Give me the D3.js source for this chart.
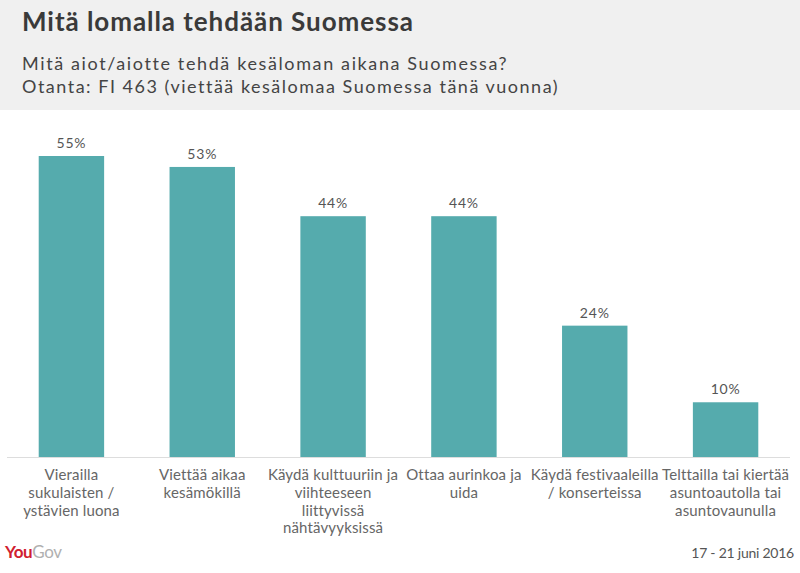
<!DOCTYPE html>
<html><head><meta charset="utf-8">
<script src="https://cdnjs.cloudflare.com/ajax/libs/d3/7.8.5/d3.min.js"></script>
<style>body{margin:0;background:#fff}svg{display:block}</style>
</head><body>
<script>
const categories = [
  ["Vierailla","sukulaisten /","ystävien luona"],
  ["Viettää aikaa","kesämökillä"],
  ["Käydä kulttuuriin ja","viihteeseen","liittyvissä","nähtävyyksissä"],
  ["Ottaa aurinkoa ja","uida"],
  ["Käydä festivaaleilla","/ konserteissa"],
  ["Telttailla tai kiertää","asuntoautolla tai","asuntovaunulla"]
];
const values = [55, 53, 44, 44, 24, 10];
const title = "Mitä lomalla tehdään Suomessa";
const subtitles = ["Mitä aiot/aiotte tehdä kesäloman aikana Suomessa?", "Otanta: FI 463 (viettää kesälomaa Suomessa tänä vuonna)"];
const dateText = "17 - 21 juni 2016";

const W = 800, H = 573;
const svg = d3.select("body").append("svg").attr("width", W).attr("height", H);
const font = "Lato, 'Open Sans', sans-serif";

// letter-spacing that makes a text element reach a target width
function spacingFor(sel, target) {
  const node = sel.node();
  const w = node.getComputedTextLength();
  const n = node.textContent.length;
  return (target - w) / Math.max(1, n - 1);
}

svg.append("rect").attr("x",0).attr("y",0).attr("width",W).attr("height",110).attr("fill","#f0f0f0");
const tt = svg.append("text").attr("x",22).attr("y",31).attr("font-family",font).attr("font-weight","bold")
  .attr("font-size",26).attr("fill","#3a3a3a").text(title);
tt.attr("letter-spacing", spacingFor(tt, 391));

const subTargets = [484, 535];
subtitles.forEach((s,i)=>{
  const t = svg.append("text").attr("x",22).attr("y",70+i*22.5).attr("font-family",font)
    .attr("font-size",18).attr("fill","#444").text(s);
  t.attr("letter-spacing", spacingFor(t, subTargets[i]));
});

const idx = d3.range(values.length);
const x = d3.scaleBand().domain(idx).range([6, 791]).paddingInner(0.5).paddingOuter(0.25);
const y = d3.scaleLinear().domain([0, 55]).range([457, 156]);

svg.append("line").attr("x1",7).attr("x2",790).attr("y1",457.5).attr("y2",457.5)
  .attr("stroke","#ddd").attr("stroke-width",1);

svg.selectAll(".bar").data(values).join("rect").attr("class","bar")
  .attr("x",(d,i)=>x(i)).attr("width",x.bandwidth())
  .attr("y",d=>y(d)).attr("height",d=>y(0)-y(d)).attr("fill","#55abad");

const vals = svg.selectAll(".val").data(values).join("text").attr("class","val")
  .attr("x",(d,i)=>x(i)+x.bandwidth()/2).attr("y",d=>y(d)-8)
  .attr("text-anchor","middle").attr("font-family",font).attr("font-size",14)
  .attr("fill","#555").text(d=>d+"%");
const valSp = spacingFor(d3.select(vals.nodes()[0]), 29);
vals.attr("letter-spacing", valSp);

// measure label spacing from a reference line
const probe = svg.append("text").attr("font-family",font).attr("font-size",15).text(categories[4][0]);
const labSp = spacingFor(probe, 128);
probe.remove();

categories.forEach((lines,i)=>{
  const t = svg.append("text").attr("text-anchor","middle").attr("font-family",font)
    .attr("font-size",15).attr("fill","#666").attr("letter-spacing", labSp);
  lines.forEach((l,j)=>{
    t.append("tspan").attr("x",x(i)+x.bandwidth()/2).attr("y",480+j*17.8).text(l);
  });
});

const logo = svg.append("text").attr("x",5).attr("y",558).attr("font-family",font)
  .attr("font-size",17).attr("letter-spacing","-0.4");
logo.append("tspan").attr("fill","#d0202f").attr("font-weight","bold").text("You");
logo.append("tspan").attr("fill","#b0b0b0").text("Gov");

const dt = svg.append("text").attr("x",794).attr("y",558).attr("text-anchor","end").attr("font-family",font)
  .attr("font-size",14).attr("fill","#555").text(dateText);
dt.attr("letter-spacing", spacingFor(dt, 103));
</script>
</body></html>
